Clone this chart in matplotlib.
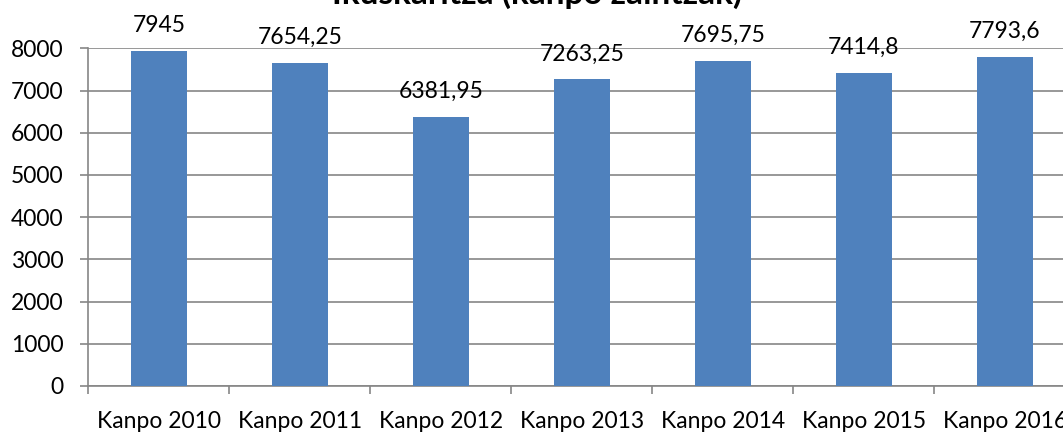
import matplotlib.pyplot as plt
import numpy as np

# data
categories = ["Kanpo 2010", "Kanpo 2011", "Kanpo 2012", "Kanpo 2013",
              "Kanpo 2014", "Kanpo 2015", "Kanpo 2016"]
values = [7945, 7654.25, 6381.95, 7263.25, 7695.75, 7414.8, 7793.6]
value_labels = ["7945", "7654,25", "6381,95", "7263,25", "7695,75", "7414,8", "7793,6"]
yticks = [0, 1000, 2000, 3000, 4000, 5000, 6000, 7000, 8000]

plt.rcParams['font.family'] = ['Lato', 'DejaVu Sans']
gray = "#868686"
fs = 16.5

fig = plt.figure(figsize=(10.63, 4.32), dpi=100)
ax = fig.add_axes([88.3 / 1063, 46 / 432, 987 / 1063, (386 - 48.3) / 432])

x = np.arange(len(categories))
ax.bar(x, values, width=0.4, color="#4F81BD", zorder=3)

# value labels above bars
for xi, v, lab in zip(x, values, value_labels):
    ax.annotate(lab, (xi, v), xytext=(0, 13.7), textcoords="offset points",
                ha="center", va="baseline", fontsize=fs, color="black")

ax.set_xlim(-0.5, len(categories) - 0.5)
ax.set_ylim(0, 8000)
ax.set_yticks(yticks)
ax.set_yticklabels([str(t) for t in yticks])
ax.yaxis.grid(True, color=gray, linewidth=1.2, zorder=0)

# category labels at centres, ticks at boundaries
ax.set_xticks(x)
ax.set_xticklabels(categories)
ax.set_xticks(np.arange(-0.5, len(categories), 1), minor=True)
ax.tick_params(axis="x", which="major", length=0, pad=18, labelsize=fs)
ax.tick_params(axis="x", which="minor", length=6, width=1.2, color=gray, direction="out")
ax.tick_params(axis="y", length=6, width=1.2, color=gray, pad=12, labelsize=fs)

for side in ["top", "right"]:
    ax.spines[side].set_visible(False)
for side in ["left", "bottom"]:
    ax.spines[side].set_color(gray)
    ax.spines[side].set_linewidth(1.2)

# title, mostly cut off at top of picture
fig.text(0.505, 1 - 4 / 432, "Ikuskaritza (kanpo zaintzak)", ha="center", va="baseline",
         fontsize=24, fontweight="bold", color="black")

fig.savefig("out.png", dpi=100)
